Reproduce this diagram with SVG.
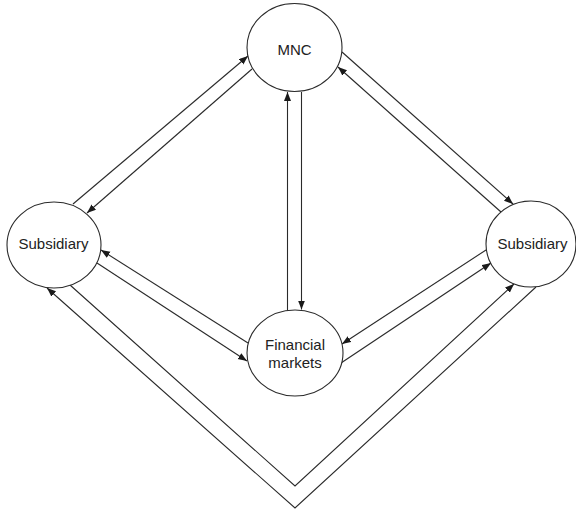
<svg xmlns="http://www.w3.org/2000/svg" width="576" height="511" viewBox="0 0 576 511">
<style>
.node ellipse{fill:#fff;stroke:#2a2a2a;stroke-width:1.1}
.node text{font-family:"Liberation Sans",Arial,sans-serif;font-size:15px;fill:#222;text-anchor:middle}
.conn line,.conn polyline{stroke:#2a2a2a;stroke-width:1.1;fill:none}
.arr{marker-end:url(#ah)}
</style>
<defs>
<marker id="ah" markerUnits="userSpaceOnUse" markerWidth="10" markerHeight="8" refX="9" refY="3.5" orient="auto">
<path d="M0,0 L9,3.5 L0,7 z" fill="#1a1a1a"/>
</marker>
</defs>
<rect width="576" height="511" fill="#fff"/>
<g id="connectors" class="conn">
<line class="arr" x1="73" y1="204" x2="248" y2="56"/>
<line class="arr" x1="252" y1="69" x2="87" y2="213"/>
<line class="arr" x1="342" y1="52" x2="513" y2="204"/>
<line class="arr" x1="501" y1="212" x2="338" y2="67"/>
<line class="arr" x1="287.5" y1="311" x2="287.5" y2="92"/>
<line class="arr" x1="301.5" y1="92" x2="301.5" y2="309.5"/>
<line class="arr" x1="248" y1="343" x2="101" y2="250"/>
<line class="arr" x1="97" y1="263" x2="247" y2="361"/>
<line class="arr" x1="486" y1="250" x2="342" y2="344"/>
<line class="arr" x1="341" y1="363" x2="491" y2="263"/>
<polyline class="arr" points="536,287 295,508 47,288"/>
<polyline class="arr" points="70,285 295,486 514,284"/>
</g>
<g id="mnc" class="node">
<ellipse cx="294.5" cy="47.5" rx="47.5" ry="44"/>
<text x="294.5" y="55">MNC</text>
</g>
<g id="subsidiary-left" class="node">
<ellipse cx="54" cy="245" rx="47" ry="43"/>
<text x="53.5" y="248.5">Subsidiary</text>
</g>
<g id="subsidiary-right" class="node">
<ellipse cx="531" cy="244" rx="45" ry="43"/>
<text x="532.5" y="248.5">Subsidiary</text>
</g>
<g id="financial-markets" class="node">
<ellipse cx="295" cy="353" rx="48" ry="43"/>
<text x="295" y="350">Financial</text>
<text x="295" y="367.5">markets</text>
</g>
</svg>
